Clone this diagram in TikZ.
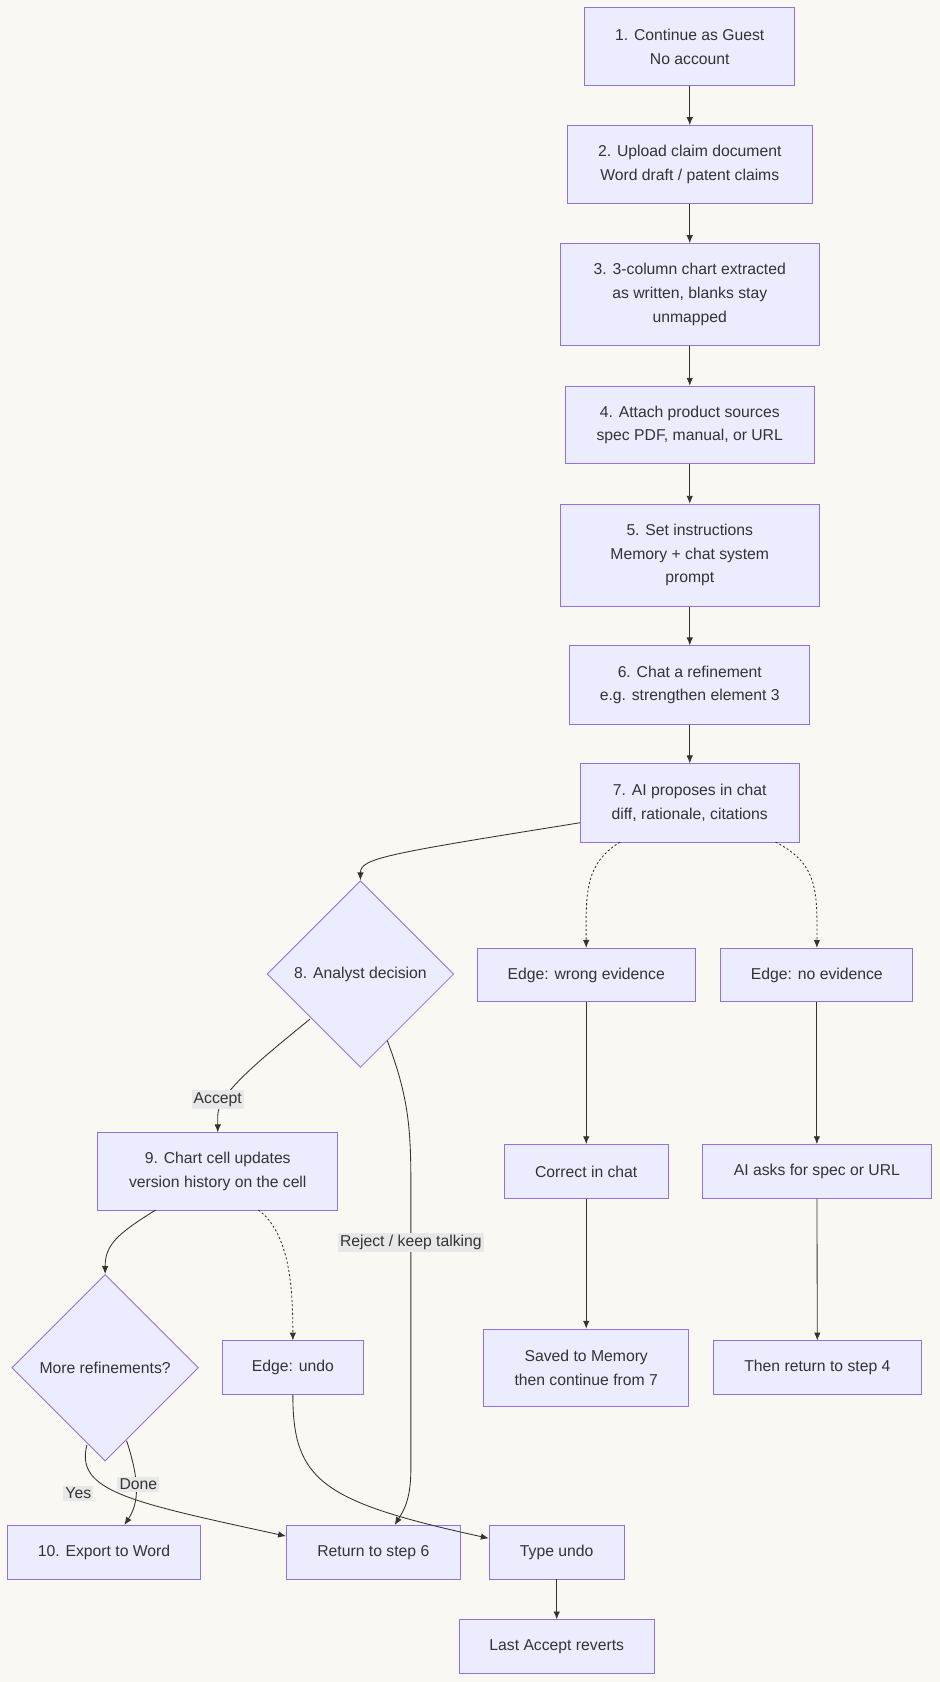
\documentclass[tikz,border=0pt]{standalone}
\usepackage{fontspec}
\setmainfont{Liberation Sans}
\usetikzlibrary{shapes.geometric,arrows.meta}
\definecolor{bg}{HTML}{FAF8F2}
\definecolor{nf}{HTML}{ECECFF}
\definecolor{nd}{HTML}{9370DB}
\definecolor{lb}{HTML}{E8E8E8}
\definecolor{ln}{HTML}{333333}
\begin{document}
\begin{tikzpicture}[x=0.75pt,y=-0.75pt,
 box/.style={draw=nd,fill=nf,line width=0.6pt,align=center,inner sep=0pt,font=\fontsize{11}{16.5}\selectfont,text=ln},
 dia/.style={draw=nd,fill=nf,line width=0.6pt,diamond,inner sep=0pt,minimum width=174*0.75pt,minimum height=174*0.75pt,font=\fontsize{11}{16.5}\selectfont,text=ln},
 ar/.style={draw=ln,line width=0.6pt,-{Latex[length=5.5pt,width=4.5pt]}},
 dt/.style={ar,dash pattern=on 1.5pt off 1.5pt},
 lab/.style={fill=lb,inner sep=1.5pt,font=\fontsize{11}{13}\selectfont,text=ln}]
\fill[bg] (0,0) rectangle (876,1568);
\useasboundingbox (0,0) rectangle (876,1568);
\newcommand{\bx}[6]{\node[box,minimum width=#4*0.75pt,minimum height=#5*0.75pt] (#1) at (#2,#3) {#6};}
\bx{n1}{643}{43.5}{196}{73}{1. Continue as Guest\\No account}
\bx{n2}{643}{153.5}{228}{73}{2. Upload claim document\\Word draft / patent claims}
\bx{n3}{643}{274.5}{242}{95}{3. 3-column chart extracted\\as written, blanks stay\\unmapped}
\bx{n4}{643}{396}{232}{72}{4. Attach product sources\\spec PDF, manual, or URL}
\bx{n5}{643}{517.5}{242}{95}{5. Set instructions\\Memory + chat system\\prompt}
\bx{n6}{643}{638.5}{224}{73}{6. Chat a refinement\\e.g. strengthen element 3}
\bx{n7}{643}{748.5}{204}{73}{7. AI proposes in chat\\diff, rationale, citations}
\node[dia] (n8) at (336,908) {8. Analyst decision};
\bx{we}{546.5}{909}{203}{50}{Edge: wrong evidence}
\bx{ne}{761.5}{909}{179}{50}{Edge: no evidence}
\bx{n9}{203}{1092}{224}{72}{9. Chart cell updates\\version history on the cell}
\bx{cc}{546.5}{1092}{153}{50}{Correct in chat}
\bx{ai}{761.5}{1092}{213}{50}{AI asks for spec or URL}
\node[dia] (mr) at (98,1275) {More refinements?};
\bx{eu}{273}{1275}{132}{50}{Edge: undo}
\bx{sm}{546.5}{1275}{191}{72}{Saved to Memory\\then continue from 7}
\bx{tr}{762}{1275}{194}{50}{Then return to step 4}
\bx{ex}{97}{1447}{180}{50}{10. Export to Word}
\bx{r6}{348}{1447}{162}{50}{Return to step 6}
\bx{tu}{519}{1447}{126}{50}{Type undo}
\bx{la}{519}{1535}{182}{50}{Last Accept reverts}
\draw[ar] (n1)--(n2); \draw[ar] (n2)--(n3); \draw[ar] (n3)--(n4);
\draw[ar] (n4)--(n5); \draw[ar] (n5)--(n6); \draw[ar] (n6)--(n7);
\draw[ar] (n7.west|-0,767) .. controls (360,796) and (336,800) .. (n8.north);
\draw[dt] (578,785) .. controls (546,805) and (546,830) .. (we.north);
\draw[dt] (723,785) .. controls (762,805) and (762,830) .. (ne.north);
\draw[ar] (we)--(cc); \draw[ar] (cc)--(sm);
\draw[ar] (ne)--(ai); \draw[ar] (ai)--(tr);
\draw[ar] (tu)--(la);
\draw[ar] (289,950) .. controls (240,990) and (203,1020) .. (203,1040) -- (n9.north);
\node[lab] (lacc) at (203,1025) {Accept};
\draw[ar] (361,970) .. controls (380,1020) and (383,1050) .. (383,1100) -- (383,1370) .. controls (383,1400) and (375,1410) .. (r6.north-|368,0);
\node[lab] (lrej) at (383,1158) {Reject / keep talking};
\draw[ar] (145,1128) .. controls (110,1150) and (98,1160) .. (mr.north);
\draw[dt] (241,1128) .. controls (270,1150) and (273,1200) .. (eu.north);
\draw[ar] (118,1343) .. controls (130,1380) and (130,1400) .. (ex.north-|116,0);
\node[lab] (ldone) at (129,1384) {Done};
\draw[ar] (81,1347) .. controls (70,1390) and (120,1400) .. (r6.west|-0,1432);
\node[lab] (lyes) at (73,1392) {Yes};
\draw[ar] (eu.south) .. controls (273,1380) and (300,1400) .. (tu.west|-0,1434);
\end{tikzpicture}
\end{document}
